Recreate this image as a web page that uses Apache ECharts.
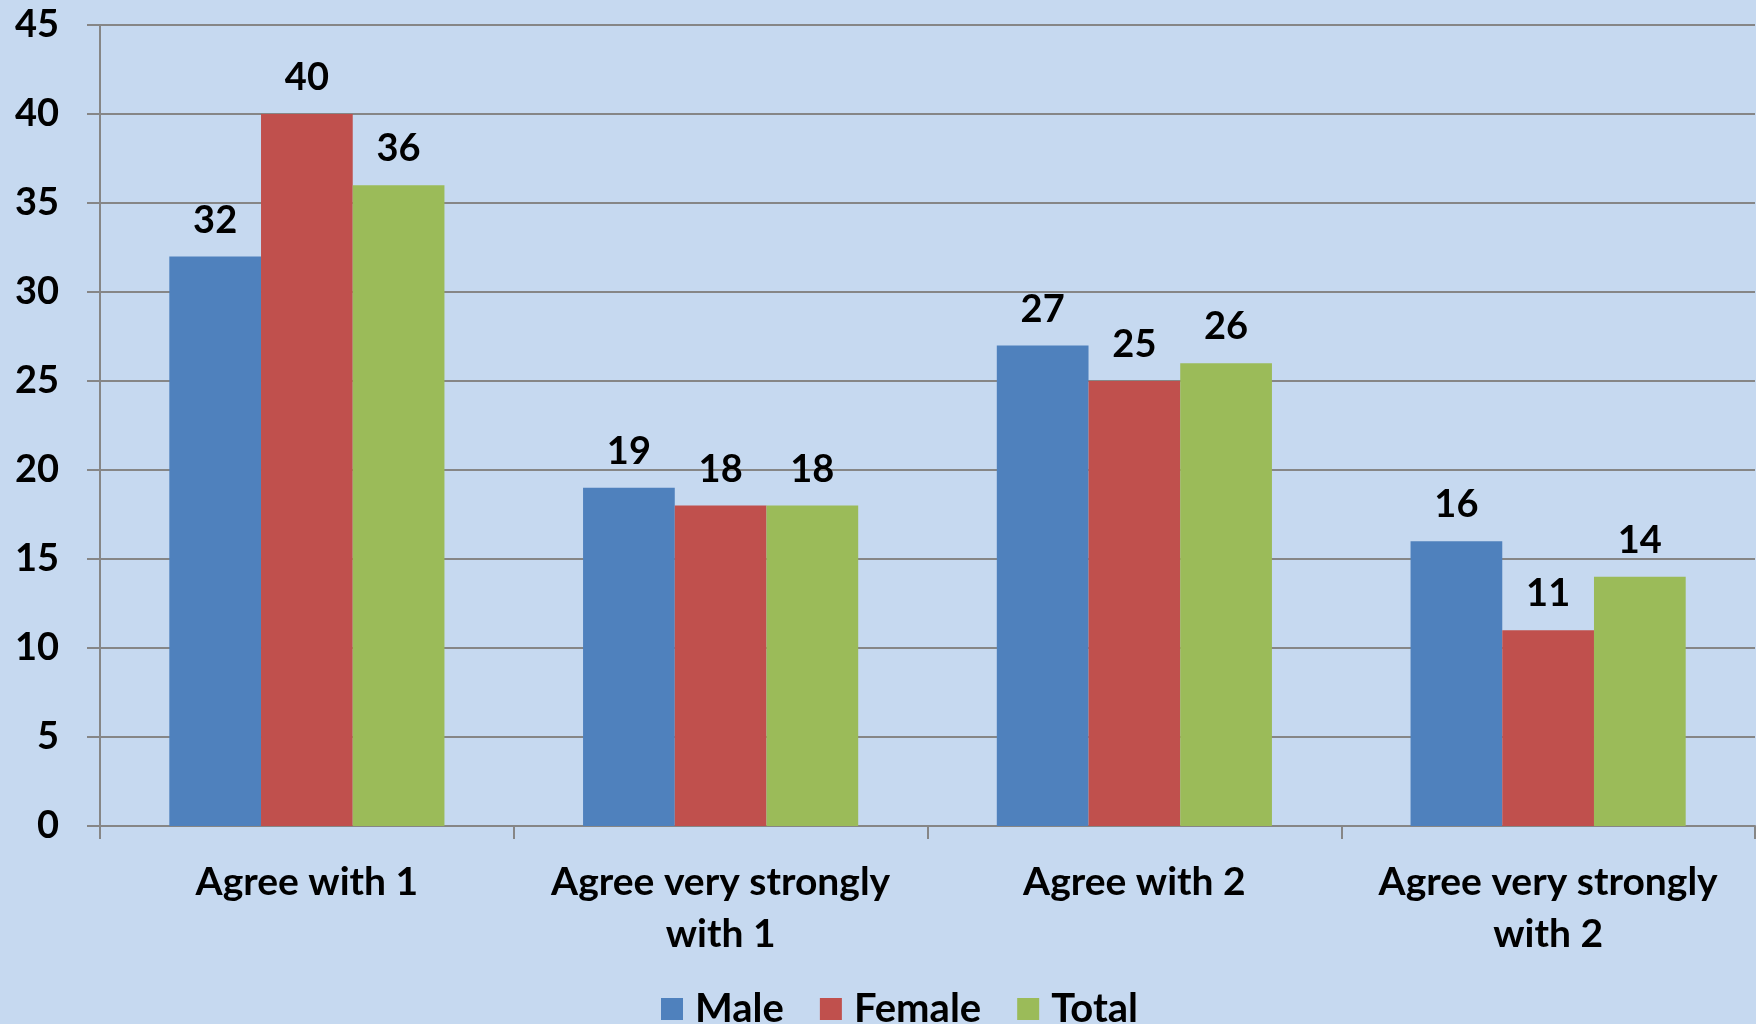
<!DOCTYPE html>
<html><head><meta charset="utf-8">
<script src="https://cdn.jsdelivr.net/npm/echarts@6/dist/echarts.min.js"></script>
<style>html,body{margin:0;padding:0;background:#C6D9F0;}#c{width:1756px;height:1024px;}</style>
</head><body><div id="c"></div>
<script>
const categories = ['Agree with 1', 'Agree very strongly\nwith 1', 'Agree with 2', 'Agree very strongly\nwith 2'];
const seriesNames = ['Male', 'Female', 'Total'];
const male = [32, 19, 27, 16];
const female = [40, 18, 25, 11];
const total = [36, 18, 26, 14];
const colors = ['#4F81BD', '#C0504D', '#9BBB59'];
const FONT = 'Lato';

const chart = echarts.init(document.getElementById('c'), null, {renderer: 'canvas'});
const lbl = {show: true, position: 'top', distance: 17, color: '#000', fontFamily: FONT, fontWeight: 'bold', fontSize: 38};
chart.setOption({
  backgroundColor: '#C6D9F0',
  animation: false,
  color: colors,
  grid: {left: 100, right: 1, top: 25, bottom: 198, containLabel: false},
  legend: {
    top: 984, left: 656, itemWidth: 22, itemHeight: 22, itemGap: 36,
    icon: 'rect',
    textStyle: {fontFamily: FONT, fontWeight: 'bold', fontSize: 40, color: '#000', padding: [0,0,0,7]}
  },
  xAxis: {
    type: 'category', data: categories,
    axisLine: {lineStyle: {color: '#868686', width: 2}},
    axisTick: {show: true, length: 13, lineStyle: {color: '#868686', width: 2}},
    axisLabel: {interval: 0, margin: 30, color: '#000', fontFamily: FONT, fontWeight: 'bold', fontSize: 39, lineHeight: 52}
  },
  yAxis: {
    type: 'value', min: 0, max: 45, interval: 5,
    axisLine: {show: true, lineStyle: {color: '#868686', width: 2}},
    axisTick: {show: true, length: 13, lineStyle: {color: '#868686', width: 2}},
    splitLine: {lineStyle: {color: '#868686', width: 2}},
    axisLabel: {margin: 41, color: '#000', fontFamily: FONT, fontWeight: 'bold', fontSize: 38}
  },
  series: [
    {name: seriesNames[0], type: 'bar', data: male, barGap: '0%', barCategoryGap: '33.5%', label: lbl},
    {name: seriesNames[1], type: 'bar', data: female, barGap: '0%', barCategoryGap: '33.5%', label: lbl},
    {name: seriesNames[2], type: 'bar', data: total, barGap: '0%', barCategoryGap: '33.5%', label: lbl}
  ]
});
</script></body></html>
